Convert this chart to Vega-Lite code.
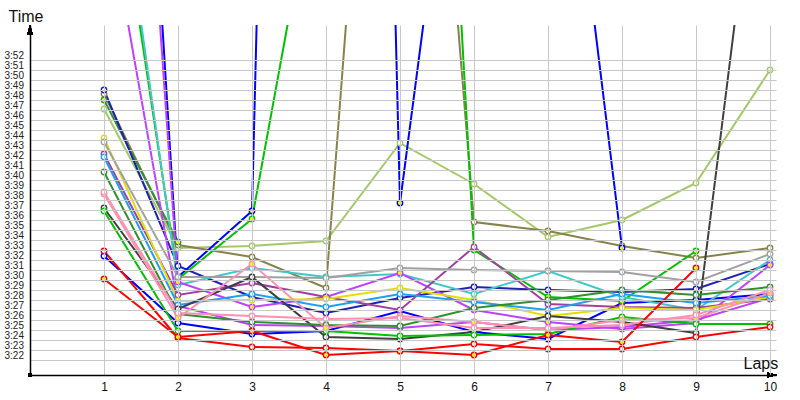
{
  "$schema": "https://vega.github.io/schema/vega-lite/v6.json",
  "width": 746,
  "height": 350,
  "autosize": "none",
  "padding": {"left": 30, "top": 25, "right": 24, "bottom": 25},
  "background": "white",
  "config": {"view": {"stroke": null}},
  "datasets": {
    "laps": [
      {"d":"LG","f":"w","lap":1,"t":227.1},{"d":"LG","f":"w","lap":2,"t":213.2},{"d":"LG","f":"w","lap":3,"t":213.4},{"d":"LG","f":"w","lap":4,"t":213.9},{"d":"LG","f":"w","lap":5,"t":223.7},{"d":"LG","f":"w","lap":6,"t":219.6},{"d":"LG","f":"w","lap":7,"t":214.3},{"d":"LG","f":"w","lap":8,"t":216.0},{"d":"LG","f":"w","lap":9,"t":219.7},{"d":"LG","f":"w","lap":10,"t":231.0},
      {"d":"OL","f":"w","lap":1,"t":228.6},{"d":"OL","f":"w","lap":2,"t":213.5},{"d":"OL","f":"w","lap":3,"t":212.3},{"d":"OL","f":"w","lap":4,"t":209.2},{"d":"OL","f":"w","lap":5,"t":306.8},{"d":"OL","f":"w","lap":6,"t":215.8},{"d":"OL","f":"w","lap":7,"t":214.9},{"d":"OL","f":"w","lap":8,"t":213.4},{"d":"OL","f":"w","lap":9,"t":212.2},{"d":"OL","f":"w","lap":10,"t":213.2},
      {"d":"DG1","f":"y","lap":1,"t":228.0},{"d":"DG1","f":"y","lap":2,"t":213.8},
      {"d":"BD","f":"w","lap":1,"t":229.0},{"d":"BD","f":"w","lap":2,"t":211.4},{"d":"BD","f":"w","lap":3,"t":208.3},{"d":"BD","f":"w","lap":4,"t":206.7},{"d":"BD","f":"w","lap":5,"t":208.2},{"d":"BD","f":"w","lap":6,"t":209.3},{"d":"BD","f":"w","lap":7,"t":209.0},{"d":"BD","f":"w","lap":8,"t":208.8},{"d":"BD","f":"w","lap":9,"t":209.1},{"d":"BD","f":"w","lap":10,"t":211.6},
      {"d":"B2","f":"w","lap":1,"t":212.4},{"d":"B2","f":"w","lap":2,"t":205.7},{"d":"B2","f":"w","lap":3,"t":204.6},{"d":"B2","f":"w","lap":4,"t":204.9},{"d":"B2","f":"w","lap":5,"t":206.9},{"d":"B2","f":"w","lap":6,"t":204.8},{"d":"B2","f":"w","lap":7,"t":204.1},{"d":"B2","f":"w","lap":8,"t":207.7},{"d":"B2","f":"w","lap":9,"t":208.0},{"d":"B2","f":"w","lap":10,"t":208.6},
      {"d":"B1","f":"y","lap":1,"t":329.4},{"d":"B1","f":"y","lap":2,"t":210.3},{"d":"B1","f":"y","lap":3,"t":216.9},{"d":"B1","f":"y","lap":4,"t":515.4},{"d":"B1","f":"y","lap":5,"t":217.7},{"d":"B1","f":"y","lap":6,"t":274.3},{"d":"B1","f":"y","lap":7,"t":273.6},{"d":"B1","f":"y","lap":8,"t":213.2},
      {"d":"G1","f":"y","lap":1,"t":259.2},{"d":"G1","f":"y","lap":2,"t":210.1},{"d":"G1","f":"y","lap":3,"t":216.1},{"d":"G1","f":"y","lap":4,"t":256.5},{"d":"G1","f":"y","lap":5,"t":345.4},{"d":"G1","f":"y","lap":6,"t":213.0},{"d":"G1","f":"y","lap":7,"t":208.3},{"d":"G1","f":"y","lap":8,"t":207.9},{"d":"G1","f":"y","lap":9,"t":212.9},
      {"d":"C","f":"w","lap":1,"t":262.0},{"d":"C","f":"w","lap":2,"t":209.5},{"d":"C","f":"w","lap":3,"t":211.2},{"d":"C","f":"w","lap":4,"t":210.3},{"d":"C","f":"w","lap":5,"t":210.6},{"d":"C","f":"w","lap":6,"t":208.6},{"d":"C","f":"w","lap":7,"t":210.9},{"d":"C","f":"w","lap":8,"t":208.3},{"d":"C","f":"w","lap":9,"t":207.0},{"d":"C","f":"w","lap":10,"t":212.0},
      {"d":"MY","f":"y","lap":1,"t":315.6},{"d":"MY","f":"y","lap":2,"t":209.8},{"d":"MY","f":"y","lap":3,"t":207.3},{"d":"MY","f":"y","lap":4,"t":208.3},{"d":"MY","f":"y","lap":5,"t":210.7},{"d":"MY","f":"y","lap":6,"t":207.0},{"d":"MY","f":"y","lap":7,"t":205.8},{"d":"MY","f":"y","lap":8,"t":205.1},{"d":"MY","f":"y","lap":9,"t":205.7},{"d":"MY","f":"y","lap":10,"t":211.5},
      {"d":"MW","f":"w","lap":1,"t":249.2},{"d":"MW","f":"w","lap":2,"t":207.4},{"d":"MW","f":"w","lap":3,"t":205.5},{"d":"MW","f":"w","lap":4,"t":205.4},{"d":"MW","f":"w","lap":5,"t":205.2},{"d":"MW","f":"w","lap":6,"t":205.8},{"d":"MW","f":"w","lap":7,"t":205.0},{"d":"MW","f":"w","lap":8,"t":205.3},{"d":"MW","f":"w","lap":9,"t":206.0},{"d":"MW","f":"w","lap":10,"t":208.2},
      {"d":"P","f":"w","lap":1,"t":222.6},{"d":"P","f":"w","lap":2,"t":208.5},{"d":"P","f":"w","lap":3,"t":209.7},{"d":"P","f":"w","lap":4,"t":208.3},{"d":"P","f":"w","lap":5,"t":207.0},{"d":"P","f":"w","lap":6,"t":213.3},{"d":"P","f":"w","lap":7,"t":207.6},{"d":"P","f":"w","lap":8,"t":207.3},{"d":"P","f":"w","lap":9,"t":207.2},{"d":"P","f":"w","lap":10,"t":208.1},
      {"d":"Y","f":"w","lap":1,"t":224.2},{"d":"Y","f":"w","lap":2,"t":207.9},{"d":"Y","f":"w","lap":3,"t":208.0},{"d":"Y","f":"w","lap":4,"t":208.1},{"d":"Y","f":"w","lap":5,"t":209.2},{"d":"Y","f":"w","lap":6,"t":208.0},{"d":"Y","f":"w","lap":7,"t":206.4},{"d":"Y","f":"w","lap":8,"t":207.2},{"d":"Y","f":"w","lap":9,"t":207.0},{"d":"Y","f":"w","lap":10,"t":208.3},
      {"d":"LB","f":"w","lap":1,"t":222.3},{"d":"LB","f":"w","lap":2,"t":207.5},{"d":"LB","f":"w","lap":3,"t":208.6},{"d":"LB","f":"w","lap":4,"t":207.3},{"d":"LB","f":"w","lap":5,"t":208.6},{"d":"LB","f":"w","lap":6,"t":207.8},{"d":"LB","f":"w","lap":7,"t":207.0},{"d":"LB","f":"w","lap":8,"t":208.6},{"d":"LB","f":"w","lap":9,"t":207.7},{"d":"LB","f":"w","lap":10,"t":208.4},
      {"d":"GR","f":"w","lap":1,"t":223.8},{"d":"GR","f":"w","lap":2,"t":210.3},{"d":"GR","f":"w","lap":3,"t":210.3},{"d":"GR","f":"w","lap":4,"t":210.2},{"d":"GR","f":"w","lap":5,"t":211.2},{"d":"GR","f":"w","lap":6,"t":211.0},{"d":"GR","f":"w","lap":7,"t":210.9},{"d":"GR","f":"w","lap":8,"t":210.8},{"d":"GR","f":"w","lap":9,"t":209.8},{"d":"GR","f":"w","lap":10,"t":212.6},
      {"d":"BK","f":"w","lap":1,"t":217.2},{"d":"BK","f":"w","lap":2,"t":207.1},{"d":"BK","f":"w","lap":3,"t":210.3},{"d":"BK","f":"w","lap":4,"t":204.3},{"d":"BK","f":"w","lap":5,"t":204.1},{"d":"BK","f":"w","lap":6,"t":204.8},{"d":"BK","f":"w","lap":7,"t":206.4},{"d":"BK","f":"w","lap":8,"t":205.8},{"d":"BK","f":"w","lap":9,"t":204.7},{"d":"BK","f":"w","lap":10,"t":263.9},
      {"d":"DG2","f":"w","lap":1,"t":220.8},{"d":"DG2","f":"w","lap":2,"t":206.6},{"d":"DG2","f":"w","lap":3,"t":205.8},{"d":"DG2","f":"w","lap":4,"t":205.5},{"d":"DG2","f":"w","lap":5,"t":205.4},{"d":"DG2","f":"w","lap":6,"t":207.2},{"d":"DG2","f":"w","lap":7,"t":208.0},{"d":"DG2","f":"w","lap":8,"t":209.0},{"d":"DG2","f":"w","lap":9,"t":208.5},{"d":"DG2","f":"w","lap":10,"t":209.3},
      {"d":"GW","f":"w","lap":1,"t":216.9},{"d":"GW","f":"w","lap":2,"t":204.9},{"d":"GW","f":"w","lap":3,"t":204.9},{"d":"GW","f":"w","lap":4,"t":204.9},{"d":"GW","f":"w","lap":5,"t":204.4},{"d":"GW","f":"w","lap":6,"t":204.5},{"d":"GW","f":"w","lap":7,"t":204.6},{"d":"GW","f":"w","lap":8,"t":206.3},{"d":"GW","f":"w","lap":9,"t":205.6},{"d":"GW","f":"w","lap":10,"t":205.6},
      {"d":"PK1","f":"y","lap":1,"t":218.6},{"d":"PK1","f":"y","lap":2,"t":206.2},{"d":"PK1","f":"y","lap":3,"t":211.6},{"d":"PK1","f":"y","lap":4,"t":205.2},{"d":"PK1","f":"y","lap":5,"t":206.4},{"d":"PK1","f":"y","lap":6,"t":205.8},{"d":"PK1","f":"y","lap":7,"t":205.0},{"d":"PK1","f":"y","lap":8,"t":206.0},{"d":"PK1","f":"y","lap":9,"t":206.2},{"d":"PK1","f":"y","lap":10,"t":208.7},
      {"d":"PK2","f":"w","lap":1,"t":218.8},{"d":"PK2","f":"w","lap":2,"t":206.7},{"d":"PK2","f":"w","lap":3,"t":206.4},{"d":"PK2","f":"w","lap":4,"t":206.1},{"d":"PK2","f":"w","lap":5,"t":206.2},{"d":"PK2","f":"w","lap":6,"t":205.2},{"d":"PK2","f":"w","lap":7,"t":205.2},{"d":"PK2","f":"w","lap":8,"t":205.5},{"d":"PK2","f":"w","lap":9,"t":206.5},{"d":"PK2","f":"w","lap":10,"t":209.0},
      {"d":"R","f":"w","lap":1,"t":212.9},{"d":"R","f":"w","lap":2,"t":204.2},{"d":"R","f":"w","lap":3,"t":203.3},{"d":"R","f":"w","lap":4,"t":203.2},{"d":"R","f":"w","lap":5,"t":202.9},{"d":"R","f":"w","lap":6,"t":203.6},{"d":"R","f":"w","lap":7,"t":203.1},{"d":"R","f":"w","lap":8,"t":203.1},{"d":"R","f":"w","lap":9,"t":204.3},{"d":"R","f":"w","lap":10,"t":205.3},
      {"d":"RY","f":"y","lap":1,"t":210.1},{"d":"RY","f":"y","lap":2,"t":204.3},{"d":"RY","f":"y","lap":3,"t":204.9},{"d":"RY","f":"y","lap":4,"t":202.5},{"d":"RY","f":"y","lap":5,"t":202.9},{"d":"RY","f":"y","lap":6,"t":202.5},{"d":"RY","f":"y","lap":7,"t":204.5},{"d":"RY","f":"y","lap":8,"t":203.8},{"d":"RY","f":"y","lap":9,"t":211.2}
    ]
  },
  "data": {"name": "laps"},
  "layer": [
    {
      "mark": {"type": "line", "strokeWidth": 2, "clip": true},
      "encoding": {
        "x": {"field": "lap", "type": "quantitative",
          "scale": {"domain": [0, 10.081], "nice": false, "zero": false},
          "axis": {"values": [1,2,3,4,5,6,7,8,9,10], "format": "d", "grid": true, "gridColor": "#c8c8c8", "gridWidth": 1, "ticks": false,
            "domainColor": "black", "domainWidth": 1.5, "zindex": 1, "labelOverlap": false,
            "labelFont": "Liberation Sans", "labelFontSize": 12, "labelColor": "#111", "labelPadding": 6, "labelFlush": false,
            "title": "Laps", "titleFont": "Liberation Sans", "titleFontSize": 16, "titleFontWeight": "normal", "titleColor": "#111",
            "titleX": 713, "titleY": -7, "titleAlign": "left", "titleBaseline": "alphabetic", "titleAnchor": null}},
        "y": {"field": "t", "type": "quantitative",
          "scale": {"domain": [200.5, 235.5], "nice": false, "zero": false},
          "axis": {"values": [202,203,204,205,206,207,208,209,210,211,212,213,214,215,216,217,218,219,220,221,222,223,224,225,226,227,228,229,230,231,232],
            "tickCount": 40, "grid": true, "gridColor": "#c8c8c8", "gridWidth": 1, "ticks": false,
            "domainColor": "black", "domainWidth": 1.5, "zindex": 1, "labelOverlap": false, "labelFlush": false,
            "labelExpr": "floor(datum.value/60) + ':' + (datum.value % 60 < 10 ? '0' : '') + (datum.value % 60)",
            "labelFont": "Liberation Sans", "labelFontSize": 10, "labelColor": "#222", "labelAlign": "left", "labelPadding": 26,
            "labelBaseline": "alphabetic", "labelOffset": -1.5,
            "title": "Time", "titleFont": "Liberation Sans", "titleFontSize": 16, "titleFontWeight": "normal", "titleColor": "#111",
            "titleAngle": 0, "titleX": -22, "titleY": -4, "titleAlign": "left", "titleBaseline": "alphabetic", "titleAnchor": null}},
        "color": {"field": "d", "type": "nominal", "legend": null,
          "scale": {"domain": ["LG","OL","DG1","BD","B2","B1","G1","C","MY","MW","P","Y","LB","GR","BK","DG2","GW","PK1","PK2","R","RY"],
            "range": ["#a4c866","#86834a","#2f942f","#2020b4","#0000ff","#0000ff","#00c000","#40c8c8","#c040ff","#c040ff","#a040a0","#e0e000","#1ea0f0","#a0a0a0","#404040","#309030","#00c000","#ff90b0","#ff90b0","#ff0000","#ff0000"]}},
        "detail": {"field": "d"},
        "order": {"field": "lap", "type": "quantitative"}
      }
    },
    {
      "mark": {"type": "point", "shape": "circle", "filled": false, "size": 30, "strokeWidth": 1.3, "opacity": 1, "clip": true},
      "encoding": {
        "x": {"field": "lap", "type": "quantitative"},
        "y": {"field": "t", "type": "quantitative"},
        "stroke": {"field": "d", "type": "nominal", "legend": null,
          "scale": {"domain": ["LG","OL","DG1","BD","B2","B1","G1","C","MY","MW","P","Y","LB","GR","BK","DG2","GW","PK1","PK2","R","RY"],
            "range": ["#a4c866","#86834a","#2f942f","#2020b4","#0000ff","#0000ff","#00c000","#40c8c8","#c040ff","#c040ff","#a040a0","#e0e000","#1ea0f0","#a0a0a0","#404040","#309030","#00c000","#ff90b0","#ff90b0","#ff0000","#ff0000"]}},
        "fill": {"field": "f", "type": "nominal", "legend": null,
          "scale": {"domain": ["w","y"], "range": ["#ffffff","#ffff00"]}}
      }
    },
    {
      "mark": {"type": "point", "shape": "M0,-1L0.27,0L-0.27,0Z", "filled": true, "color": "black", "size": 400, "opacity": 1},
      "encoding": {"x": {"datum": 0, "type": "quantitative"}, "y": {"datum": 234.5, "type": "quantitative"}}
    },
    {
      "mark": {"type": "point", "shape": "M1,0L0,-0.25L0,0.25Z", "filled": true, "color": "black", "size": 400, "opacity": 1},
      "encoding": {"x": {"datum": 9.9595, "type": "quantitative"}, "y": {"datum": 200.5, "type": "quantitative"}}
    },
    {
      "mark": {"type": "point", "shape": "square", "filled": true, "color": "black", "size": 10, "opacity": 1},
      "encoding": {"x": {"datum": 0, "type": "quantitative"}, "y": {"datum": 200.5, "type": "quantitative"}}
    }
  ]
}
